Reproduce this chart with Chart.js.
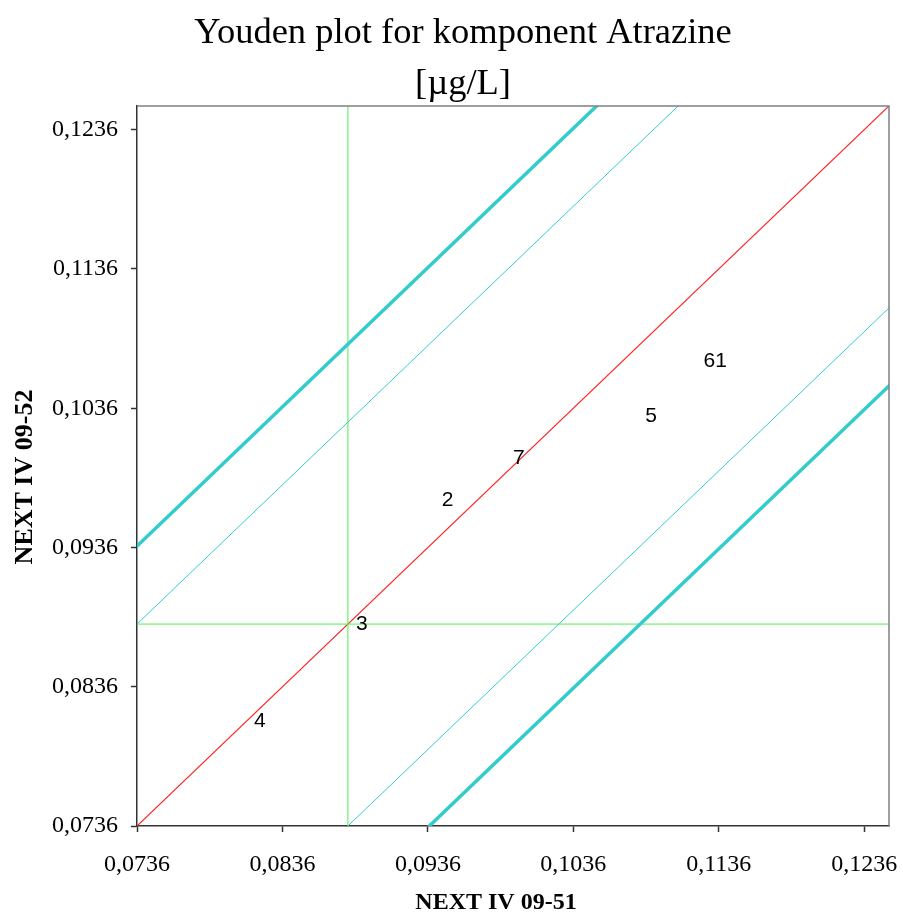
<!DOCTYPE html>
<html>
<head>
<meta charset="utf-8">
<script src="https://cdn.jsdelivr.net/npm/chart.js@4.4.1/dist/chart.umd.min.js"></script>
<style>
  html, body { margin: 0; padding: 0; background: #ffffff; }
  #wrap { position: relative; width: 903px; height: 915px; }
</style>
</head>
<body>
<div id="wrap"><canvas id="youden"></canvas></div>
<script>
// Axis range and tick positions (µg/L)
const axisMin = 0.0736;
const axisMax = 0.1253;
const tickValues = [0.0736, 0.0836, 0.0936, 0.1036, 0.1136, 0.1236];

// Laboratory results: sample NEXT IV 09-51 (x) against NEXT IV 09-52 (y)
const labIds   = ['1', '2', '3', '4', '5', '6', '7'];
const sampleA  = [0.1128, 0.0940, 0.0881, 0.0811, 0.1080, 0.1120, 0.0989];
const sampleB  = [0.1070, 0.0970, 0.0881, 0.0811, 0.1030, 0.1070, 0.1000];

// Medians of both samples and the diagonal limit offsets
const medianA = 0.0881;
const medianB = 0.0881;
const innerOffset = 0.0145;
const outerOffset = 0.0201;

const fmt = v => v.toFixed(4).replace('.', ',');

// A line y = x + offset across the whole axis range (clipped to the plot)
function diagonal(offset) {
  const lo = axisMin - 0.06, hi = axisMax + 0.06;
  return [{ x: lo, y: lo + offset }, { x: hi, y: hi + offset }];
}

const lineDefaults = { type: 'line', pointRadius: 0, fill: false, tension: 0, clip: 0 };

const datasets = [
  Object.assign({}, lineDefaults, { data: diagonal(outerOffset),  borderColor: '#33cccc', borderWidth: 3.5 }),
  Object.assign({}, lineDefaults, { data: diagonal(-outerOffset), borderColor: '#33cccc', borderWidth: 3.5 }),
  Object.assign({}, lineDefaults, { data: diagonal(innerOffset),  borderColor: '#33cccc', borderWidth: 1 }),
  Object.assign({}, lineDefaults, { data: diagonal(-innerOffset), borderColor: '#33cccc', borderWidth: 1 }),
  Object.assign({}, lineDefaults, { data: [{ x: medianA, y: axisMin - 0.06 }, { x: medianA, y: axisMax + 0.06 }], borderColor: '#4cf04c', borderWidth: 1 }),
  Object.assign({}, lineDefaults, { data: [{ x: axisMin - 0.06, y: medianB }, { x: axisMax + 0.06, y: medianB }], borderColor: '#4cf04c', borderWidth: 1 }),
  Object.assign({}, lineDefaults, { data: diagonal(0), borderColor: '#ff2020', borderWidth: 1.2 }),
  {
    type: 'scatter',
    data: sampleA.map((a, i) => ({ x: a, y: sampleB[i] })),
    pointRadius: 0,
    clip: 0
  }
];

// Lab numbers written beside each result, plus titles and plot frame
const decorations = {
  id: 'decorations',
  afterDatasetsDraw(chart) {
    const ctx = chart.ctx;
    const area = chart.chartArea;
    ctx.save();
    // frame on top and right
    ctx.strokeStyle = '#808080';
    ctx.lineWidth = 1.5;
    ctx.beginPath();
    ctx.moveTo(area.left, area.top);
    ctx.lineTo(area.right, area.top);
    ctx.lineTo(area.right, area.bottom);
    ctx.stroke();

    // lab labels
    const meta = chart.getDatasetMeta(datasets.length - 1);
    ctx.fillStyle = '#000000';
    ctx.font = '21px "Liberation Sans", Arial, sans-serif';
    ctx.textAlign = 'left';
    ctx.textBaseline = 'middle';
    meta.data.forEach((pt, i) => {
      ctx.fillText(labIds[i], pt.x + 8, pt.y);
    });
    ctx.restore();
  },
  afterDraw(chart) {
    const ctx = chart.ctx;
    ctx.save();
    ctx.fillStyle = '#000000';
    ctx.textAlign = 'center';
    ctx.textBaseline = 'alphabetic';
    ctx.font = '36.5px "Liberation Serif", "Times New Roman", serif';
    ctx.fillText('Youden plot for komponent Atrazine', 463, 43);
    ctx.fillText('[µg/L]', 463, 94);

    ctx.font = 'bold 24px "Liberation Serif", "Times New Roman", serif';
    ctx.fillText('NEXT IV 09-51', 496, 909);

    ctx.translate(32, 477);
    ctx.rotate(-Math.PI / 2);
    ctx.font = 'bold 26px "Liberation Serif", "Times New Roman", serif';
    ctx.fillText('NEXT IV 09-52', 0, 0);
    ctx.restore();
  }
};

const axisCommon = {
  type: 'linear',
  min: axisMin,
  max: axisMax,
  afterBuildTicks(scale) { scale.ticks = tickValues.map(v => ({ value: v })); },
  grid: { display: true, drawOnChartArea: false, drawTicks: true, tickLength: 6, tickColor: '#333333', tickWidth: 1.5 },
  border: { display: true, color: '#333333', width: 1.5 },
  ticks: {
    color: '#000000',
    font: { family: '"Liberation Serif", "Times New Roman", serif', size: 24 },
    callback: v => fmt(v),
    autoSkip: false,
    maxRotation: 0
  }
};

function noPadding(scale) {
  scale.paddingLeft = 0;
  scale.paddingRight = 0;
  scale.paddingTop = 0;
  scale.paddingBottom = 0;
}

new Chart(document.getElementById('youden'), {
  data: { datasets },
  options: {
    responsive: true,
    maintainAspectRatio: false,
    animation: false,
    events: [],
    layout: { padding: { left: 0, right: 14, top: 106, bottom: 0 } },
    plugins: { legend: { display: false }, tooltip: { enabled: false }, title: { display: false } },
    scales: {
      x: Object.assign({}, axisCommon, {
        position: 'bottom',
        afterFit(scale) { scale.height = 89; noPadding(scale); },
        ticks: Object.assign({}, axisCommon.ticks, { padding: 18 })
      }),
      y: Object.assign({}, axisCommon, {
        position: 'left',
        afterFit(scale) { scale.width = 137; noPadding(scale); },
        ticks: Object.assign({}, axisCommon.ticks, { padding: 13 })
      })
    }
  },
  plugins: [decorations]
});
</script>
</body>
</html>
